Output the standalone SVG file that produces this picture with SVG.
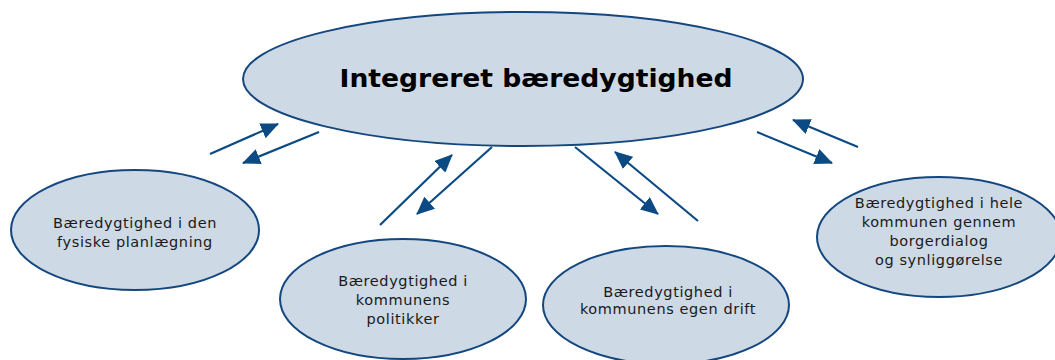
<svg xmlns="http://www.w3.org/2000/svg" width="1055" height="360" viewBox="0 0 1055 360">
<style>
.node ellipse{fill:#cdd9e5;stroke:#14477f;stroke-width:2}
.lbl{font-family:"DejaVu Sans",Verdana,sans-serif;font-size:14.5px;letter-spacing:0.6px;fill:#1a1a1a;text-anchor:middle}
.title{font-family:"DejaVu Sans",Verdana,sans-serif;font-size:24px;font-weight:bold;fill:#000;text-anchor:middle}
#connectors line{stroke:#0c4a84;stroke-width:2.2;marker-end:url(#ah)}
</style>
<defs>
<marker id="ah" markerUnits="userSpaceOnUse" markerWidth="18" markerHeight="16" viewBox="0 0 18 16" refX="17" refY="8" orient="auto">
<path d="M0,0 L18,8 L0,16 Z" fill="#0c4a84"/>
</marker>
</defs>
<rect width="1055" height="360" fill="#fff"/>
<g id="main" class="node">
<ellipse cx="523" cy="79" rx="280" ry="67"/>
<text class="title" x="536" y="87" textLength="393" lengthAdjust="spacingAndGlyphs">Integreret bæredygtighed</text>
</g>
<g id="fysisk" class="node">
<ellipse cx="135" cy="230" rx="124" ry="60"/>
<text class="lbl" x="135" y="228">Bæredygtighed i den</text>
<text class="lbl" x="135" y="247">fysiske planlægning</text>
</g>
<g id="politikker" class="node">
<ellipse cx="403" cy="299" rx="123" ry="60"/>
<text class="lbl" x="403" y="286">Bæredygtighed i</text>
<text class="lbl" x="403" y="305">kommunens</text>
<text class="lbl" x="403" y="324">politikker</text>
</g>
<g id="drift" class="node">
<ellipse cx="666" cy="305" rx="123" ry="59"/>
<text class="lbl" x="668" y="297">Bæredygtighed i</text>
<text class="lbl" x="668" y="314">kommunens egen drift</text>
</g>
<g id="borger" class="node">
<ellipse cx="939" cy="237" rx="122" ry="60"/>
<text class="lbl" x="939" y="208">Bæredygtighed i hele</text>
<text class="lbl" x="939" y="227">kommunen gennem</text>
<text class="lbl" x="939" y="246">borgerdialog</text>
<text class="lbl" x="939" y="265">og synliggørelse</text>
</g>
<g id="connectors">
<line x1="210" y1="154" x2="278" y2="124"/>
<line x1="319" y1="132" x2="243" y2="163"/>
<line x1="380" y1="225" x2="452" y2="155"/>
<line x1="492" y1="147" x2="417" y2="214"/>
<line x1="575" y1="147" x2="658" y2="214"/>
<line x1="698" y1="221" x2="615" y2="152"/>
<line x1="757" y1="132" x2="832" y2="163"/>
<line x1="858" y1="147" x2="793" y2="120"/>
</g>
</svg>
